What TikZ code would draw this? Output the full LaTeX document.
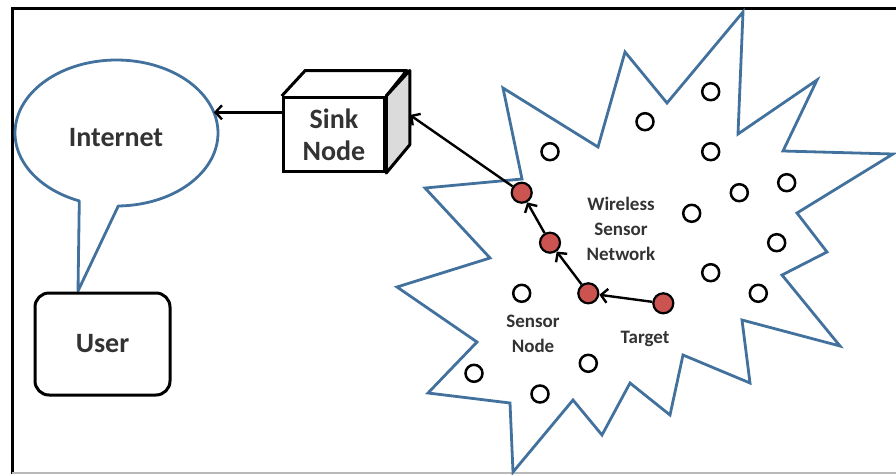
\documentclass[tikz,border=0pt]{standalone}
\usepackage{fontspec}
\setmainfont{Carlito}
\usetikzlibrary{shapes.geometric,arrows.meta,calc}
\definecolor{starblue}{HTML}{41719C}
\definecolor{hopred}{HTML}{CB5450}
\definecolor{labelgray}{HTML}{333333}
\begin{document}
\begin{tikzpicture}[x=1pt,y=-1pt,
  sensor/.style={circle,draw=black,line width=2.5pt,fill=white,minimum size=17pt,inner sep=0pt},
  hop/.style={circle,draw=black,line width=2.2pt,fill=hopred,minimum size=20pt,inner sep=0pt},
  hoparrow/.style={draw=black,line width=2.4pt,-{Straight Barb[length=6.5pt,width=14pt]}},
  biglabel/.style={font=\bfseries\fontsize{28}{36}\selectfont,text=labelgray,align=center},
  smalllabel/.style={font=\bfseries\fontsize{19}{25}\selectfont,text=labelgray,align=center},
  outline/.style={draw=starblue,line width=2.8pt},
]
\useasboundingbox (0,0) rectangle (896,474);

% frame
\draw[line width=3pt] (12,474) -- (12,8) -- (896,8);
\draw[gray!55,line width=1.5pt] (12,473) -- (896,473);

% wireless sensor field outline
\draw[outline,line join=miter]
  (743,12) -- (738,134) -- (817,80) -- (783,151) -- (893,154) -- (797,213)
  -- (827,252) -- (782,275) -- (840,346) -- (742,320) -- (750,383) -- (683,355)
  -- (670,415) -- (630,383) -- (602,435) -- (573,400) -- (513,472) -- (510,403)
  -- (428,393) -- (477,342) -- (397,287) -- (490,258) -- (425,188) -- (522,179)
  -- (503,88) -- (598,147) -- (625,52) -- (667,103) -- cycle;

% Internet callout
\node[ellipse,minimum width=203pt,minimum height=146pt,inner sep=0pt,outer sep=0pt] (internet) at (116.5,133) {};
\draw[outline,line join=round]
  plot[domain=89:-248.5,samples=140] ({116.5+101.5*cos(\x)},{133+73*sin(\x)})
  -- (78,291) -- cycle;
\node[biglabel] (internettext) at (116,138) {Internet};

% user
\node[draw,rounded corners=14pt,line width=3pt,minimum width=135pt,minimum height=102pt,biglabel] (user) at (102.5,344) {User};

% sink node cube
\node[draw,line width=3pt,minimum width=101.5pt,minimum height=74pt,fill=white,biglabel,inner sep=0pt] (sink) at (334,134.5) {Sink\\[-4pt]Node};
\draw[line width=3pt,line join=round] (sink.north west) -- ++(23.5,-25.5) -- ++(101.5,0) -- (sink.north east);
\filldraw[fill=gray!28,line width=3pt,line join=round] (sink.north east) -- ++(23.5,-25.5) -- ++(0,74.3) -- (sink.south east) -- cycle;
\coordinate (sinkside) at (410,115);

% sensor nodes
\foreach \n/\p in {s1/{(710.7,91.7)},s2/{(645,121.7)},s3/{(550,151.7)},s4/{(710.7,151.7)},
  s5/{(786.7,182.7)},s6/{(739.3,192.7)},s7/{(691.7,213.3)},s8/{(776.7,242.7)},
  s9/{(710.7,272.7)},s10/{(758.3,293.3)},s11/{(521.7,293.3)},s12/{(588.3,363.3)},
  s13/{(474,373.3)},s14/{(540,394)}}
  \node[sensor] (\n) at \p {};

% routing path
\node[hop] (r1) at (521.7,192.7) {};
\node[hop] (r2) at (550,242.7) {};
\node[hop] (r3) at (588.3,293.3) {};
\node[hop] (target) at (663.3,303.3) {};

\draw[hoparrow] (target) -- (r3);
\draw[hoparrow] (r3) -- (r2);
\draw[hoparrow] (r2) -- (r1);
\draw[hoparrow] (r1) -- (sinkside);
\draw[hoparrow] (sink.west |- internet.12) -- (internet.12);

% labels
\node[smalllabel] (wsn) at (621,229) {Wireless\\Sensor\\Network};
\node[smalllabel] (sensorlabel) at (533,334) {Sensor\\Node};
\node[smalllabel] (targetlabel) at (645,339) {Target};
\end{tikzpicture}
\end{document}
